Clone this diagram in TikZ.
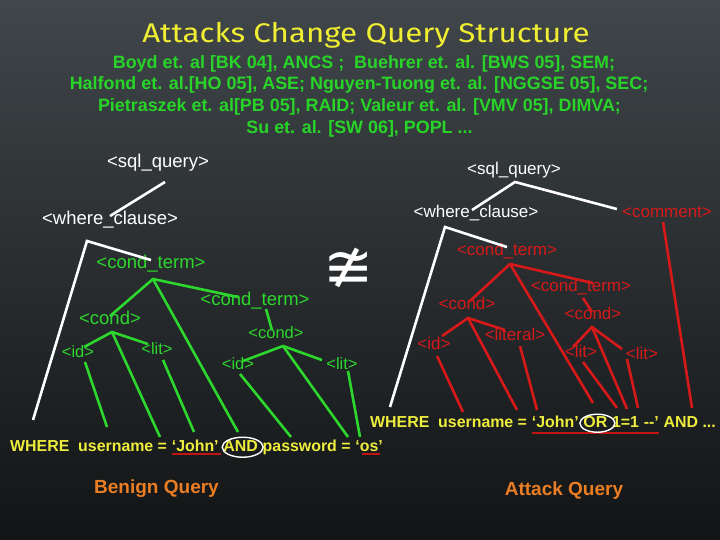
\documentclass[tikz,border=0pt]{standalone}
\usepackage{fontspec}
\setmainfont{Liberation Sans}
\newfontfamily\titlefont{Fira Sans}[FakeStretch=1.16]
\newfontfamily\symfont{DejaVu Sans}
\usetikzlibrary{calc}
\definecolor{bgtop}{RGB}{64,70,74}
\definecolor{bgmid}{RGB}{38,42,44}
\definecolor{bgbot}{RGB}{18,20,21}
\definecolor{ttl}{RGB}{240,238,50}
\definecolor{cite}{RGB}{40,212,40}
\definecolor{tg}{RGB}{45,215,45}
\definecolor{tr}{RGB}{215,25,25}
\definecolor{qy}{RGB}{238,236,60}
\definecolor{ul}{RGB}{195,20,20}
\definecolor{lab}{RGB}{235,125,35}
\begin{document}
\begin{tikzpicture}[x=1pt,y=-1pt,
  lbl/.style={inner sep=1pt,text height=0.75em,text depth=0.2em},
  wbig/.style={lbl,text=white,font=\fontsize{18.5}{20}\selectfont},
  gbig/.style={lbl,text=tg,font=\fontsize{18.5}{20}\selectfont},
  gsm/.style={lbl,text=tg,font=\fontsize{16.5}{18}\selectfont},
  wr/.style={lbl,text=white,font=\fontsize{17}{19}\selectfont},
  rr/.style={lbl,text=tr,font=\fontsize{17}{19}\selectfont},
  lw/.style={draw=white,line width=2.6pt},
  lg/.style={draw=tg,line width=2.6pt},
  lr/.style={draw=tr,line width=2.6pt},
  qt/.style={inner sep=0pt,anchor=base west,text=qy,font=\bfseries\fontsize{15.9}{18}\selectfont},
  ctx/.style={inner sep=0pt,anchor=base,text=cite,font=\bfseries\fontsize{17.9}{20}\selectfont},
  qlab/.style={inner sep=0pt,anchor=base,text=lab,font=\bfseries\fontsize{19}{22}\selectfont},
  uline/.style={draw=ul,line width=1.8pt},
  circ/.style={draw=white,line width=1.4pt}
]
\useasboundingbox (0,0) rectangle (720,540);
\fill[top color=bgtop,middle color=bgmid,bottom color=bgbot] (0,0) rectangle (720,540);

% title and citations
\node[inner sep=0pt,anchor=base,text=ttl,font=\titlefont\fontsize{27}{30}\selectfont] (title) at (366,43) {Attacks Change Query Structure};
\node[ctx] (cite1) at (364,68.3) {Boyd et. al [BK 04], ANCS ;\ \ Buehrer et. al. [BWS 05], SEM;};
\node[ctx] (cite2) at (359,90) {Halfond et. al.[HO 05], ASE; Nguyen-Tuong et. al. [NGGSE 05], SEC;};
\node[ctx] (cite3) at (359.5,111.7) {Pietraszek et. al[PB 05], RAID; Valeur et. al. [VMV 05], DIMVA;};
\node[ctx] (cite4) at (359.5,133.3) {Su et. al. [SW 06], POPL ...};

% ---------- left (benign) tree ----------
\node[wbig] (lsq) at (158,165) {<sql\_query>};
\node[wbig] (lwc) at (110,222) {<where\_clause>};
\node[gbig] (lct1) at (151,266) {<cond\_term>};
\node[gbig] (lct2) at (255,303) {<cond\_term>};
\node[gbig] (lc1) at (110,322) {<cond>};
\node[gsm] (lc2) at (276,336) {<cond>};
\node[gsm] (lid1) at (78,355) {<id>};
\node[gsm] (llit1) at (157,352) {<lit>};
\node[gsm] (lid2) at (238,367) {<id>};
\node[gsm] (llit2) at (342,367) {<lit>};

\coordinate (lsq-a) at (165,182);
\coordinate (lwc-a) at (87,241);
\coordinate (lwc-e) at (33,420);
\coordinate (lct1-a) at (153,279);
\coordinate (lct1-e) at (238,432);
\coordinate (lc1-a) at (112,332);
\coordinate (lc1-e) at (160,437);
\coordinate (lid1-e) at (107,427);
\coordinate (llit1-e) at (194,432);
\coordinate (lc2-a) at (283,346);
\coordinate (lc2-e) at (348,437);
\coordinate (lid2-e) at (291,437);
\coordinate (llit2-e) at (360,437);

\draw[lw] (lsq-a) -- (lwc.north);
\draw[lw] (lct1.north) -- (lwc-a) -- (lwc-e);
\draw[lg] (lc1.north) -- (lct1-a) -- ($(lct2.north)+(-17,0)$);
\draw[lg] (lct1-a) -- (lct1-e);
\draw[lg] ($(lct2.south)+(11,0)$) -- ($(lc2.north)+(-4,0)$);
\draw[lg] ($(lid1.north)+(6,-2)$) -- (lc1-a) -- ($(llit1.north)+(-9,-2)$);
\draw[lg] (lc1-a) -- (lc1-e);
\draw[lg] ($(lid1.south)+(7,1)$) -- (lid1-e);
\draw[lg] ($(llit1.south)+(6,2)$) -- (llit1-e);
\draw[lg] ($(lid2.north)+(5,0)$) -- (lc2-a) -- ($(llit2.north)+(-20,-1)$);
\draw[lg] (lc2-a) -- (lc2-e);
\draw[lg] ($(lid2.south)+(2,1)$) -- (lid2-e);
\draw[lg] ($(llit2.south)+(6,-2)$) -- (llit2-e);

% not-equal symbol
\node[inner sep=0pt,text=white,font=\symfont\fontsize{60}{62}\selectfont] (neq) at (349,268) {≇};

% ---------- right (attack) tree ----------
\node[wr] (rsq) at (514,172) {<sql\_query>};
\node[wr] (rwc) at (476,215) {<where\_clause>};
\node[rr] (rcm) at (667,215) {<comment>};
\node[rr] (rct1) at (507,253) {<cond\_term>};
\node[rr] (rct2) at (581,289) {<cond\_term>};
\node[rr] (rc1) at (467,307) {<cond>};
\node[rr] (rc2) at (593,317) {<cond>};
\node[rr] (rid) at (434,347) {<id>};
\node[rr] (rlitr) at (515,338) {<literal>};
\node[rr] (rlita) at (581,355) {<lit>};
\node[rr] (rlitb) at (642,357) {<lit>};

\coordinate (rsq-a) at (515,182);
\coordinate (rwc-a) at (445,227);
\coordinate (rwc-e) at (390,407);
\coordinate (rcm-e) at (692,408);
\coordinate (rct1-a) at (510,264);
\coordinate (rct1-e) at (593,403);
\coordinate (rc1-a) at (468,318);
\coordinate (rc1-e) at (517,410);
\coordinate (rid-e) at (463,412);
\coordinate (rlitr-e) at (537,410);
\coordinate (rc2-a) at (592,327);
\coordinate (rc2-e) at (627,409);
\coordinate (rlita-e) at (617,408);
\coordinate (rlitb-e) at (638,408);

\draw[lw] ($(rwc.north)+(-4,1)$) -- (rsq-a) -- ($(rcm.north west)+(-4,0)$);
\draw[lw] (rct1.north) -- (rwc-a) -- (rwc-e);
\draw[lr] ($(rcm.south)+(-4,1)$) -- (rcm-e);
\draw[lr] ($(rc1.north)+(3,0)$) -- (rct1-a) -- ($(rct2.north)+(12,0)$);
\draw[lr] (rct1-a) -- (rct1-e);
\draw[lr] ($(rct2.south)+(2,3)$) -- ($(rc2.north)+(-1,1)$);
\draw[lr] ($(rid.north)+(8,-5)$) -- (rc1-a) -- ($(rlitr.north)+(-10,-2)$);
\draw[lr] (rc1-a) -- (rc1-e);
\draw[lr] ($(rid.south)+(3,3)$) -- (rid-e);
\draw[lr] ($(rlitr.south)+(5,2)$) -- (rlitr-e);
\draw[lr] ($(rlita.north)+(-8,-2)$) -- (rc2-a) -- ($(rlitb.north)+(-20,-2)$);
\draw[lr] (rc2-a) -- (rc2-e);
\draw[lr] ($(rlita.south)+(2,1)$) -- (rlita-e);
\draw[lr] ($(rlitb.south)+(-15,-4)$) -- (rlitb-e);

% ---------- query strings ----------
\node[qt] (b1) at (10,451.7) {WHERE\ \ username =};
\node[qt] (b2) at ($(b1.base east)+(4.4,0)$) {‘John’};
\node[qt] (b3) at ($(b2.base east)+(4.4,0)$) {AND};
\node[qt] (b4) at ($(b3.base east)+(4.4,0)$) {password =};
\node[qt] (b5) at ($(b4.base east)+(4.4,0)$) {‘os’};
\draw[uline] ($(b2.base west)+(0,2.5)$) -- ($(b2.base east)+(2,2.5)$);
\draw[uline] ($(b5.base west)+(7,2.5)$) -- ($(b5.base east)+(-3,2.5)$);
\draw[circ] ($(b3.center)+(2,1)$) ellipse [x radius=20.5,y radius=10];

\node[qt] (a1) at (370,427.7) {WHERE\ \ username =};
\node[qt] (a2) at ($(a1.base east)+(4.4,0)$) {‘John’};
\node[qt] (a3) at ($(a2.base east)+(4.4,0)$) {OR};
\node[qt] (a4) at ($(a3.base east)+(4.4,0)$) {1=1};
\node[qt] (a5) at ($(a4.base east)+(4.4,0)$) {-{}-’};
\node[qt] (a6) at ($(a5.base east)+(4.4,0)$) {AND ...};
\draw[uline] ($(a2.base west)+(0,5)$) -- ($(a5.base east)+(0,5)$);
\draw[circ] ($(a3.center)+(2,1)$) ellipse [x radius=17.5,y radius=9];

% labels
\node[qlab] (benign) at (156.5,493.3) {Benign Query};
\node[qlab] (attack) at (564,495.7) {Attack Query};
\end{tikzpicture}
\end{document}
